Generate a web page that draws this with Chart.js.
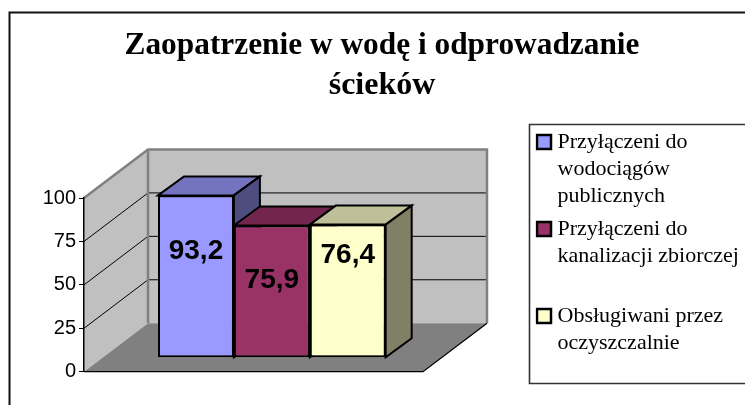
<!DOCTYPE html>
<html lang="pl">
<head>
  <meta charset="UTF-8">
  <title>Zaopatrzenie w wodę i odprowadzanie ścieków</title>
  <script src="https://cdn.jsdelivr.net/npm/chart.js"></script>
  <style>
    html, body { margin: 0; padding: 0; background: #fff; overflow: hidden; }
    canvas { display: block; }
  </style>
</head>
<body>
  <canvas id="chart" width="745" height="405"></canvas>
  <script>
    const titleLines = ['Zaopatrzenie w wodę i odprowadzanie', 'ścieków'];
    const categories = ['2002'];
    const seriesNames = [
      'Przyłączeni do wodociągów publicznych',
      'Przyłączeni do kanalizacji zbiorczej',
      'Obsługiwani przez oczyszczalnie'
    ];
    const legendLines = [
      ['Przyłączeni do', 'wodociągów', 'publicznych'],
      ['Przyłączeni do', 'kanalizacji zbiorczej', ''],
      ['Obsługiwani przez', 'oczyszczalnie']
    ];
    const seriesValues = [93.2, 75.9, 76.4];
    const yTicks = [0, 25, 50, 75, 100];

    const frontColors = ['#9999FF', '#993366', '#FFFFCC'];
    const topColors = ['#7373BF', '#73264D', '#BFBF99'];
    const sideColors = ['#4D4D80', '#4D1A33', '#808066'];
    const labelDrop = [56, 55, 31]; // label centre below bar top

    // box depth of the walls and of the bars, in pixels
    const wall = { dx: 64, dy: 48.5, floorRight: 423, backRight: 487 };
    const barDepth = { dx: 26, dy: 19 };

    function line(ctx, points, color, width) {
      ctx.beginPath();
      points.forEach((p, i) => i ? ctx.lineTo(p[0], p[1]) : ctx.moveTo(p[0], p[1]));
      ctx.strokeStyle = color;
      ctx.lineWidth = width;
      ctx.stroke();
    }

    function poly(ctx, points, fill) {
      ctx.beginPath();
      points.forEach((p, i) => i ? ctx.lineTo(p[0], p[1]) : ctx.moveTo(p[0], p[1]));
      ctx.closePath();
      ctx.fillStyle = fill;
      ctx.fill();
    }

    const placeBoxes = {
      id: 'placeBoxes',
      afterLayout(chart) {
        // title is centred on the drawing, not on the plot; legend sits in its own frame
        chart.titleBlock.left = 124.5;
        chart.titleBlock.right = 639.5;
        const legend = chart.legend;
        legend.left = 535.5;
        legend.right = 745;
        legend.top = 125;
        legend.bottom = 405;
      }
    };

    const backdrop = {
      id: 'backdrop',
      beforeDraw(chart) {
        const ctx = chart.ctx;
        const y = chart.scales.y;
        const x0 = chart.chartArea.left;
        const y0 = y.getPixelForValue(0);
        const y100 = y.getPixelForValue(100);
        const bx = x0 + wall.dx;
        const by0 = y0 - wall.dy;
        const by100 = y100 - wall.dy;

        ctx.save();
        ctx.fillStyle = '#fff';
        ctx.fillRect(0, 0, chart.width, chart.height);

        // outer frame, open to the right and bottom
        line(ctx, [[9.5, 405], [9.5, 12.5], [745, 12.5]], '#111', 2);

        // legend frame
        line(ctx, [[745, 124.5], [529.5, 124.5], [529.5, 383.5], [745, 383.5]], '#333', 1.6);

        // walls and floor
        poly(ctx, [[x0, y100], [bx, by100], [bx, by0], [x0, y0]], '#C0C0C0');
        poly(ctx, [[bx, by100], [wall.backRight, by100], [wall.backRight, by0], [bx, by0]], '#C0C0C0');
        poly(ctx, [[x0, y0], [bx, by0], [wall.backRight, by0], [wall.floorRight, y0]], '#808080');

        yTicks.filter(t => t > 0 && t < 100).forEach(t => {
          const py = y.getPixelForValue(t);
          line(ctx, [[x0, py], [bx, py - wall.dy], [wall.backRight, py - wall.dy]], '#000', 1);
        });

        line(ctx, [[x0, y100], [bx, by100], [wall.backRight, by100], [wall.backRight, by0]], '#808080', 2.5);
        line(ctx, [[bx, by100], [bx, by0]], '#808080', 2.5);
        line(ctx, [[x0, y0], [wall.floorRight, y0], [wall.backRight, by0]], '#000', 1.3);
        ctx.restore();
      }
    };

    const barFaces = {
      id: 'barFaces',
      beforeDatasetsDraw(chart) {
        const ctx = chart.ctx;
        const dx = barDepth.dx;
        const dy = barDepth.dy;
        ctx.save();
        ctx.lineJoin = 'miter';
        seriesValues.forEach((v, i) => {
          const bar = chart.getDatasetMeta(i).data[0];
          const l = bar.x - bar.width / 2;
          const r = bar.x + bar.width / 2;
          const t = bar.y;
          const b = bar.base;
          const faces = [
            [[[l, t], [l + dx, t - dy], [r + dx, t - dy], [r, t]], topColors[i]],
            [[[r, t], [r + dx, t - dy], [r + dx, b - dy], [r, b]], sideColors[i]]
          ];
          faces.forEach(f => {
            poly(ctx, f[0], f[1]);
            ctx.strokeStyle = '#000';
            ctx.lineWidth = 2;
            ctx.stroke();
          });
        });
        ctx.restore();
      },
      afterDatasetsDraw(chart) {
        const ctx = chart.ctx;
        ctx.save();
        ctx.font = 'bold 28px "Liberation Sans"';
        ctx.fillStyle = '#000';
        ctx.textAlign = 'center';
        ctx.textBaseline = 'middle';
        seriesValues.forEach((v, i) => {
          const bar = chart.getDatasetMeta(i).data[0];
          ctx.fillText(String(v).replace('.', ','), bar.x, bar.y + labelDrop[i]);
        });
        ctx.restore();
      }
    };

    new Chart(document.getElementById('chart'), {
      type: 'bar',
      data: {
        labels: categories,
        datasets: seriesNames.map((name, i) => ({
          label: name,
          data: [seriesValues[i]],
          backgroundColor: frontColors[i],
          borderColor: '#000',
          borderWidth: 2,
          borderSkipped: false,
          yAxisID: 'yBars',
          clip: false,
          categoryPercentage: 0.606,
          barPercentage: 1
        }))
      },
      plugins: [placeBoxes, backdrop, barFaces],
      options: {
        responsive: false,
        animation: false,
        layout: { padding: { left: 0, right: 285.3, top: 0, bottom: 33.3 } },
        scales: {
          x: { display: false },
          y: {
            min: 0,
            max: 100,
            afterFit(scale) { scale.width = 84; },
            afterBuildTicks(scale) { scale.ticks = yTicks.map(value => ({ value })); },
            ticks: {
              color: '#000',
              padding: 3,
              font: { family: '"Liberation Sans"', size: 20 }
            },
            grid: { drawOnChartArea: false, color: '#000', tickLength: 5, lineWidth: 1 },
            border: { color: '#000', width: 1.5 }
          },
          // bars stand a little way in from the front edge of the floor
          yBars: { display: false, min: -8.3, max: 91.7 }
        },
        plugins: {
          tooltip: { enabled: false },
          title: {
            display: true,
            text: titleLines,
            color: '#000',
            font: { family: '"Liberation Serif"', size: 32, weight: 'bold', lineHeight: 1.25 },
            padding: { top: 26, bottom: 92 }
          },
          legend: {
            position: 'chartArea',
            align: 'start',
            labels: {
              color: '#000',
              font: { family: '"Liberation Serif"', size: 22, lineHeight: 1.227 },
              usePointStyle: true,
              boxWidth: 5,
              boxHeight: 14,
              padding: 6,
              generateLabels: () => legendLines.map((text, i) => ({
                text,
                fillStyle: frontColors[i],
                strokeStyle: '#000',
                lineWidth: 2.5,
                pointStyle: 'rect',
                datasetIndex: i
              }))
            }
          }
        }
      }
    });
  </script>
</body>
</html>
